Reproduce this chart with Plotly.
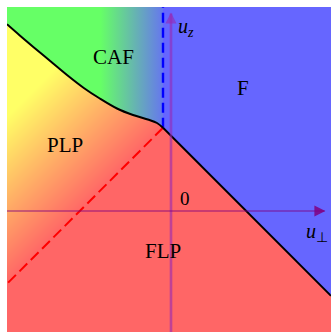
import plotly.graph_objects as go

# Axis extents (in units of u_perp / u_z)
u_perp_range = [-2.05, 2.0]
u_z_range = [-1.5125, 2.55]

# Triple point where CAF, PLP, F and FLP meet
triple_u_perp = -0.10
triple_u_z = 1.04

# CAF / PLP phase boundary (curved)
caf_plp_u_perp = [-2.05, -1.89, -1.725, -1.51, -1.30, -1.09, -0.89, -0.675,
                  -0.475, -0.29, -0.175, -0.10]
caf_plp_u_z = [2.334, 2.194, 2.054, 1.875, 1.70, 1.538, 1.406, 1.281,
               1.20, 1.144, 1.10, 1.04]

# F / FLP phase boundary (straight)
f_flp_u_perp = [-0.10, 2.0]
f_flp_u_z = [1.04, -1.06]

# CAF / F crossover (blue dashed)
caf_f_u_perp = [-0.10, -0.10]
caf_f_u_z = [1.04, 2.55]

# PLP / FLP crossover (red dashed)
plp_flp_u_perp = [-0.10, -2.05]
plp_flp_u_z = [1.04, -0.91]

# Region labels
labels = ["CAF", "F", "PLP", "FLP"]
label_u_perp = [-0.725, 0.90, -1.325, -0.10]
label_u_z = [1.925, 1.54, 0.83, -0.50]

GREEN = "rgb(102,255,102)"
BLUE = "rgb(102,102,255)"
RED = "rgb(255,102,102)"
YELLOW = "rgb(255,255,102)"
VAXIS_COL = "rgba(150,40,180,0.6)"
HAXIS_COL = "rgba(128,0,128,0.85)"
FONT = "Liberation Serif"

fig = go.Figure()

# Yellow -> red shading across the PLP region, constant red past the dashed line
gx = [-3.0, 3.0]
gy = [-3.0, 4.0]
shade = [[yv - xv for xv in gx] for yv in gy]
line_level = plp_flp_u_z[0] - plp_flp_u_perp[0]
fig.add_trace(go.Heatmap(
    x=gx, y=gy, z=shade, zsmooth="best",
    zmin=line_level, zmax=line_level + 2.1,
    colorscale=[[0, RED], [1, YELLOW]],
    showscale=False, hoverinfo="skip",
))

# CAF region: green fading to blue toward the crossover line
caf_x = [u_perp_range[0]] + caf_plp_u_perp + [triple_u_perp, u_perp_range[0]]
caf_y = [u_z_range[1]] + caf_plp_u_z + [u_z_range[1], u_z_range[1]]
fig.add_trace(go.Scatter(
    x=caf_x, y=caf_y, mode="none", fill="toself",
    fillgradient=dict(
        type="horizontal",
        colorscale=[[0, GREEN], [0.57, GREEN], [1, BLUE]],
        start=u_perp_range[0], stop=0.0,
    ),
    hoverinfo="skip",
))

# F region
f_x = [triple_u_perp, triple_u_perp, u_perp_range[1], u_perp_range[1], triple_u_perp]
f_y = [triple_u_z, u_z_range[1], u_z_range[1], f_flp_u_z[1], triple_u_z]
fig.add_trace(go.Scatter(
    x=f_x, y=f_y, mode="none", fill="toself", fillcolor=BLUE,
    hoverinfo="skip",
))

# Dashed crossover lines
fig.add_trace(go.Scatter(
    x=caf_f_u_perp, y=caf_f_u_z, mode="lines",
    line=dict(color="rgb(0,0,255)", width=2.4, dash="10px,5px"),
    hoverinfo="skip",
))
fig.add_trace(go.Scatter(
    x=plp_flp_u_perp, y=plp_flp_u_z, mode="lines",
    line=dict(color="rgb(255,0,0)", width=2, dash="11px,5px"),
    hoverinfo="skip",
))

# Phase boundaries
fig.add_trace(go.Scatter(
    x=caf_plp_u_perp, y=caf_plp_u_z, mode="lines",
    line=dict(color="black", width=2, shape="spline", smoothing=1.0),
    hoverinfo="skip",
))
fig.add_trace(go.Scatter(
    x=f_flp_u_perp, y=f_flp_u_z, mode="lines",
    line=dict(color="black", width=2),
    hoverinfo="skip",
))

# Coordinate axes
fig.add_trace(go.Scatter(
    x=[0, 0], y=[u_z_range[0], u_z_range[1] - 0.08], mode="lines",
    line=dict(color=VAXIS_COL, width=2.6), hoverinfo="skip",
))
fig.add_trace(go.Scatter(
    x=[0], y=[u_z_range[1] - 0.07], mode="markers",
    marker=dict(symbol="arrow-up", size=11, color=VAXIS_COL, line=dict(width=0)),
    hoverinfo="skip",
))
fig.add_trace(go.Scatter(
    x=[u_perp_range[0], u_perp_range[1] - 0.08], y=[0, 0], mode="lines",
    line=dict(color=HAXIS_COL, width=1.1), hoverinfo="skip",
))
fig.add_trace(go.Scatter(
    x=[u_perp_range[1] - 0.07], y=[0], mode="markers",
    marker=dict(symbol="arrow-right", size=11, color=HAXIS_COL, line=dict(width=0)),
    hoverinfo="skip",
))

# Region names
for name, lx, ly in zip(labels, label_u_perp, label_u_z):
    fig.add_annotation(
        x=lx, y=ly, text=name, showarrow=False,
        font=dict(family=FONT, size=21, color="black"),
        xanchor="center", yanchor="middle",
    )

# Axis labels and origin
fig.add_annotation(
    x=0.19, y=2.30, text="<i>u</i><sub><i>z</i></sub>", showarrow=False,
    font=dict(family=FONT, size=20, color="black"),
    xanchor="center", yanchor="middle",
)
fig.add_annotation(
    x=1.83, y=-0.27, text="<i>u</i><sub>⊥</sub>", showarrow=False,
    font=dict(family=FONT, size=20, color="black"),
    xanchor="center", yanchor="middle",
)
fig.add_annotation(
    x=0.175, y=0.16, text="0", showarrow=False,
    font=dict(family=FONT, size=19, color="black"),
    xanchor="center", yanchor="middle",
)

fig.update_layout(
    width=331, height=332,
    margin=dict(l=7, r=0, t=7, b=0),
    paper_bgcolor="white", plot_bgcolor="white",
    showlegend=False,
    xaxis=dict(range=u_perp_range, visible=False, fixedrange=True),
    yaxis=dict(range=u_z_range, visible=False, fixedrange=True),
)

fig.write_html("out.html")
